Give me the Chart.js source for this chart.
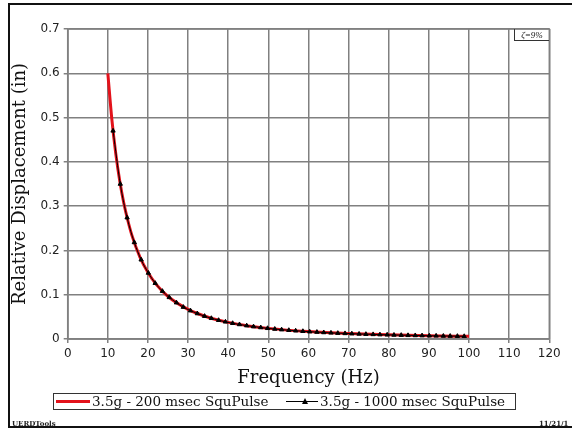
<!DOCTYPE html>
<html>
<head>
<meta charset="utf-8">
<script src="https://cdn.jsdelivr.net/npm/chart.js@4.4.0/dist/chart.umd.min.js"></script>
<style>
  html, body { margin: 0; padding: 0; background: #fff; overflow: hidden; }
  #wrap { position: relative; width: 572px; height: 431px; overflow: hidden; }
  #frame { position: absolute; left: 8px; top: 3px; width: 600px; height: 425px; border: 2px solid #111; box-sizing: border-box; }
  #chart { position: absolute; left: 0; top: 0; }
  #zeta { position: absolute; left: 514px; top: 29px; width: 35px; height: 12px; border-left: 1px solid #333; border-bottom: 1px solid #333;
          font: italic 9px "Liberation Serif", serif; text-align: center; line-height: 12px; color: #111; box-sizing: border-box; }
  #legend { position: absolute; left: 53px; top: 393px; width: 463px; height: 17px; border: 1px solid #333; box-sizing: border-box;
            font: 13.5px "DejaVu Serif", serif; color: #111; white-space: nowrap; }
  #legend .item { position: absolute; top: 0; line-height: 15px; }
  #legend .red { position: absolute; top: 6px; height: 3px; background: #e3121b; }
  #legend .blk { position: absolute; top: 7px; height: 1px; background: #000; }
  #legend .tri { position: absolute; top: 4px; width: 0; height: 0; border-left: 3px solid transparent; border-right: 3px solid transparent; border-bottom: 6px solid #000; }
  .foot { position: absolute; top: 419px; font: bold 7px "DejaVu Serif", serif; color: #222; }
</style>
</head>
<body>
<div id="wrap">
  <div id="frame"></div>
  <canvas id="chart" width="572" height="431"></canvas>
  <div id="zeta">ζ=9%</div>
  <div id="legend">
    <span class="red" style="left:2px;width:34px"></span>
    <span class="item" style="left:38px">3.5g - 200 msec SquPulse</span>
    <span class="blk" style="left:232px;width:32px"></span>
    <span class="tri" style="left:248px"></span>
    <span class="item" style="left:266px">3.5g - 1000 msec SquPulse</span>
  </div>
  <div class="foot" style="left:12px">UERDTools</div>
  <div class="foot" style="left:539px">11/21/1</div>
</div>
<script>
// 3.5g - 200 msec SquPulse (red)
const freq200 = [10, 11, 12, 13, 14, 15, 16, 18, 20, 22, 25, 30, 35, 40, 45, 50, 60, 70, 80, 90, 100];
const disp200 = [0.600, 0.496, 0.417, 0.355, 0.306, 0.267, 0.234, 0.185, 0.150, 0.124, 0.096, 0.067, 0.049,
                 0.0375, 0.0296, 0.024, 0.0167, 0.0122, 0.0094, 0.0074, 0.006];

// 3.5g - 1000 msec SquPulse (black triangles)
const freq1000 = [11.3, 13.1, 14.8, 16.6, 18.3, 20.1, 21.8, 23.6, 25.3, 27.1, 28.8, 30.6, 32.3, 34.1, 35.8, 37.6, 39.3,
                  41.1, 42.8, 44.6, 46.3, 48.1, 49.8, 51.6, 53.3, 55.1, 56.8, 58.6, 60.3, 62.1, 63.8, 65.6, 67.3,
                  69.1, 70.8, 72.6, 74.3, 76.1, 77.8, 79.6, 81.3, 83.1, 84.8, 86.6, 88.3, 90.1, 91.8, 93.6, 95.3, 97.1, 98.8];
const disp1000 = [0.470, 0.350, 0.274, 0.218, 0.179, 0.149, 0.126, 0.108, 0.094, 0.082, 0.072, 0.064, 0.0575, 0.0516, 0.0468, 0.0424, 0.0388,
                  0.0355, 0.0328, 0.0302, 0.0280, 0.0259, 0.0242, 0.0225, 0.0211, 0.0198, 0.0186, 0.0175, 0.0165, 0.0156, 0.0147, 0.0139, 0.0132,
                  0.0126, 0.0120, 0.0114, 0.0109, 0.0104, 0.0099, 0.0095, 0.0091, 0.0087, 0.0083, 0.0080, 0.0077, 0.0074, 0.0071, 0.0068, 0.0066, 0.0064, 0.0061];

const xMin = 0, xMax = 120, xStep = 10;
const yMin = 0, yMax = 0.7, yStep = 0.1;

const toPoints = (xs, ys) => xs.map((x, i) => ({ x: x, y: ys[i] }));

const gridColor = "#808080";

new Chart(document.getElementById("chart"), {
  type: "line",
  data: {
    datasets: [
      {
        label: "3.5g - 200 msec SquPulse",
        data: toPoints(freq200, disp200),
        borderColor: "#e3121b",
        borderWidth: 3,
        pointRadius: 0,
        cubicInterpolationMode: "monotone",
        order: 1,
      },
      {
        label: "3.5g - 1000 msec SquPulse",
        data: toPoints(freq1000, disp1000),
        borderColor: "#000",
        backgroundColor: "#000",
        borderWidth: 1,
        pointStyle: "triangle",
        pointRadius: 2.5,
        pointBorderWidth: 1,
        cubicInterpolationMode: "monotone",
        order: 0,
      },
    ],
  },
  options: {
    responsive: false,
    animation: false,
    layout: { padding: { left: 0, top: 29, right: 22.7, bottom: 36 } },
    plugins: { legend: { display: false }, tooltip: { enabled: false } },
    scales: {
      x: {
        type: "linear",
        min: xMin,
        max: xMax,
        afterFit: (scale) => { scale.height = 56; },
        ticks: { stepSize: xStep, padding: 4, color: "#222", font: { family: "DejaVu Sans", size: 12 } },
        grid: { color: gridColor, lineWidth: 1.5, tickLength: 4 },
        border: { color: gridColor, width: 1.5 },
        title: { display: true, text: "Frequency (Hz)", color: "#111",
                 font: { family: "DejaVu Serif", size: 18 }, padding: { top: 0, bottom: 6 } },
      },
      y: {
        min: yMin,
        max: yMax,
        afterFit: (scale) => { scale.width = 67.7; },
        ticks: { stepSize: yStep, padding: 4, color: "#222", font: { family: "DejaVu Sans", size: 12 } },
        grid: { color: gridColor, lineWidth: 1.5, tickLength: 4 },
        border: { color: gridColor, width: 1.5 },
        title: { display: true, text: "Relative Displacement (in)", color: "#111",
                 font: { family: "DejaVu Serif", size: 18 }, padding: { top: 10, bottom: 0 } },
      },
    },
  },
  plugins: [{
    id: "rightTopBorder",
    afterDraw(chart) {
      const { ctx, chartArea } = chart;
      ctx.save();
      ctx.strokeStyle = gridColor;
      ctx.lineWidth = 1.5;
      ctx.strokeRect(chartArea.left, chartArea.top, chartArea.right - chartArea.left, chartArea.bottom - chartArea.top);
      ctx.restore();
    },
  }],
});
</script>
</body>
</html>
